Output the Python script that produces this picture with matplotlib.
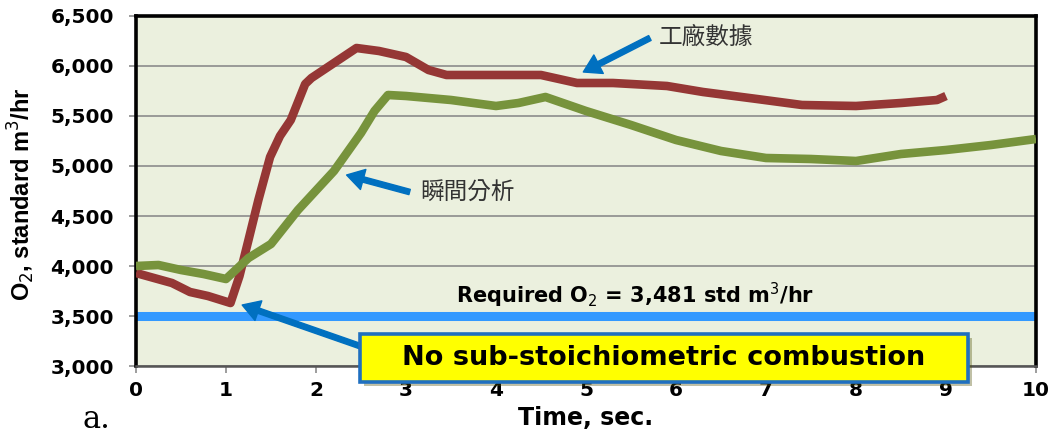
import matplotlib
matplotlib.use("Agg")
import matplotlib.pyplot as plt
import matplotlib.patheffects as pe
from matplotlib.patches import Rectangle

# plant data (red) and instantaneous analysis (green), O2 in std m3/hr
plant_t = [0, 0.2, 0.4, 0.6, 0.8, 1.05, 1.15, 1.25, 1.36, 1.49, 1.6, 1.72, 1.88,
           1.95, 2.2, 2.45, 2.7, 3.0, 3.25, 3.45, 4.0, 4.5, 4.9, 5.3, 5.9,
           6.3, 6.9, 7.4, 8.0, 8.5, 8.9, 9.0]
plant_o2 = [3930, 3880, 3830, 3740, 3700, 3630, 3900, 4260, 4660, 5090, 5300,
            5460, 5820, 5880, 6030, 6180, 6150, 6090, 5960, 5910, 5910, 5910,
            5830, 5830, 5800, 5740, 5670, 5610, 5600, 5630, 5660, 5700]

inst_t = [0, 0.25, 0.5, 0.75, 1.0, 1.25, 1.5, 1.8, 2.2, 2.5, 2.65, 2.8, 3.0,
          3.5, 4.0, 4.25, 4.55, 5.0, 5.5, 6.0, 6.5, 7.0, 7.5, 8.0, 8.5,
          9.0, 9.5, 10.0]
inst_o2 = [4000, 4010, 3960, 3920, 3870, 4080, 4220, 4560, 4950, 5330, 5550,
           5710, 5700, 5660, 5600, 5630, 5690, 5550, 5410, 5260, 5150, 5080,
           5070, 5050, 5120, 5160, 5210, 5270]

required_o2 = 3500
x_ticks = list(range(0, 11))
y_ticks = list(range(3000, 7000, 500))

fig = plt.figure(figsize=(10.59, 4.43), dpi=100)
ax = fig.add_axes([0.1284, 0.1738, 0.8499, 0.7901])
ax.set_facecolor("#EBF0DE")

ax.plot(plant_t, plant_o2, color="#953735", lw=6.2, solid_joinstyle="round",
        solid_capstyle="butt", zorder=3)
ax.plot(inst_t, inst_o2, color="#77933C", lw=6.2, solid_joinstyle="round",
        solid_capstyle="butt", zorder=3)
ax.axhline(required_o2, color="#3399FF", lw=6.5, zorder=2)

ax.set_xlim(0, 10)
ax.set_ylim(3000, 6500)
ax.set_xticks(x_ticks)
ax.set_yticks(y_ticks)
ax.set_yticklabels([f"{v:,}" for v in y_ticks])
ax.grid(axis="y", color="#8C8C8C", lw=1.2)
ax.set_axisbelow(True)
ax.tick_params(axis="both", color="#8C8C8C", length=5, width=1.2,
               labelsize=14.5)
ax.tick_params(axis="x", pad=6)
ax.tick_params(axis="y", pad=11)
for lab in ax.get_xticklabels() + ax.get_yticklabels():
    lab.set_fontweight("bold")
for side in ["left", "top", "right"]:
    ax.spines[side].set_color("black")
    ax.spines[side].set_linewidth(2.6)
ax.spines["bottom"].set_color("#555555")
ax.spines["bottom"].set_linewidth(1.8)

ax.set_xlabel("Time, sec.", fontsize=17, fontweight="bold", labelpad=4)
ax.set_ylabel("O$_2$, standard m$^3$/hr", fontsize=17, fontweight="bold",
              family="Liberation Sans")
ax.yaxis.set_label_coords(-0.11, 0.49)

ax.text(5.55, 3710, "Required O$_2$ = 3,481 std m$^3$/hr", fontsize=15,
        fontweight="bold", ha="center", va="center", zorder=4)

arrow_kw = dict(arrowstyle="simple,head_length=0.95,head_width=1.15,tail_width=0.3",
                color="#0070C0", mutation_scale=13, shrinkA=0, shrinkB=0)
cjk = ["Noto Sans CJK TC", "DejaVu Sans"]
ax.annotate("", xy=(1.18, 3610), xytext=(2.55, 3180), arrowprops=arrow_kw, zorder=4)
ax.annotate("", xy=(2.34, 4910), xytext=(3.04, 4740), arrowprops=arrow_kw, zorder=4)
ax.annotate("", xy=(4.97, 5940), xytext=(5.71, 6280), arrowprops=arrow_kw, zorder=4)
ax.text(3.16, 4730, "瞬間分析", family=cjk, fontsize=17, color="#333333",
        ha="left", va="center", zorder=4)
ax.text(5.81, 6290, "工廠數據", family=cjk, fontsize=17, color="#333333",
        ha="left", va="center", zorder=4)

# yellow call-out box overlapping the bottom of the axes
box = Rectangle((360 / 1059, 1 - 382 / 443), 608 / 1059, 48 / 443,
                transform=fig.transFigure, facecolor="#FFFF00",
                edgecolor="#1F6FC0", lw=2.6, zorder=10,
                path_effects=[pe.SimplePatchShadow(offset=(3, -3), alpha=0.35),
                              pe.Normal()])
fig.add_artist(box)
fig.text(664 / 1059, 1 - 358 / 443, "No sub-stoichiometric combustion",
         fontsize=19.5, fontweight="bold", ha="center", va="center", zorder=11)

fig.text(82 / 1059, 1 - 420 / 443, "a.", family="DejaVu Serif", fontsize=22,
         ha="left", va="center")

fig.savefig("out.png", dpi=100, facecolor="white")
